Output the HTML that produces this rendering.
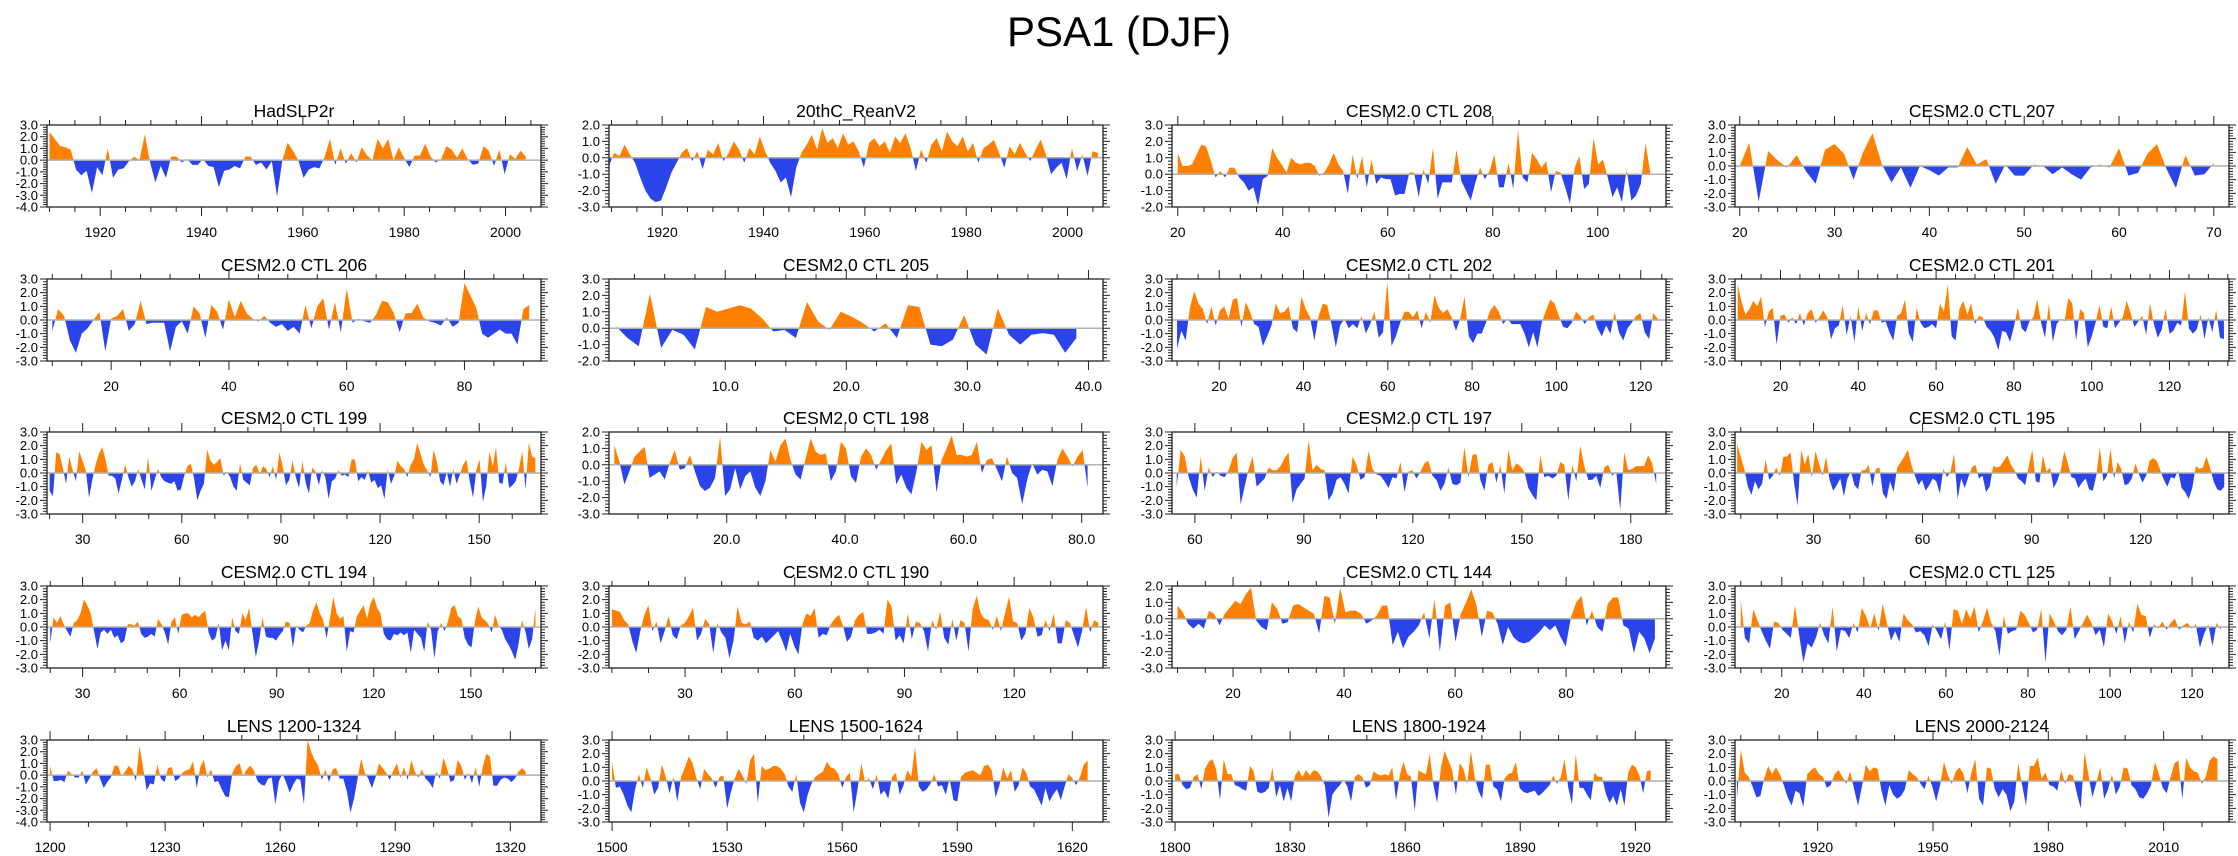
<!DOCTYPE html>
<html><head><meta charset="utf-8">
<style>
html,body{margin:0;padding:0;background:#fff;}
svg{display:block;font-family:"Liberation Sans",Arial,sans-serif;}
</style></head>
<body>
<svg id="fig" width="2238" height="856" viewBox="0 0 2238 856" xmlns="http://www.w3.org/2000/svg">
<text x="1119" y="46" text-anchor="middle" font-size="42">PSA1 (DJF)</text>
</svg>
<script>
// ---- data ----
const titles = ["HadSLP2r","20thC_ReanV2","CESM2.0 CTL 208","CESM2.0 CTL 207","CESM2.0 CTL 206","CESM2.0 CTL 205","CESM2.0 CTL 202","CESM2.0 CTL 201","CESM2.0 CTL 199","CESM2.0 CTL 198","CESM2.0 CTL 197","CESM2.0 CTL 195","CESM2.0 CTL 194","CESM2.0 CTL 190","CESM2.0 CTL 144","CESM2.0 CTL 125","LENS 1200-1324","LENS 1500-1624","LENS 1800-1924","LENS 2000-2124"];
const yRanges = [[-4,3],[-3,2],[-2,3],[-3,3],[-3,3],[-2,3],[-3,3],[-3,3],[-3,3],[-3,2],[-3,3],[-3,3],[-3,3],[-3,3],[-3,2],[-3,3],[-4,3],[-3,3],[-3,3],[-3,3]];
const xAxisRanges = [[1909.5,2007],[1909.5,2007],[18.9,113],[19.5,71.6],[9.1,93],[0.4,41.2],[8.8,126],[8.3,135.3],[19.2,168.7],[0.1,83.6],[53.7,189.7],[8.4,144.3],[19,171.7],[9.2,144.3],[9,98],[8.6,129],[1199.2,1328],[1499.2,1628],[1799.2,1928],[1898.5,2027]];
const dataSpans = [[1910,2004],[1909.5,2006],[20,110],[20,70],[10,91],[1,39],[10,124],[9,134],[20,167],[1,81],[55,187],[9,143],[20,170],[10,143],[10,96],[10,127],[1200,1324],[1500,1624],[1800,1924],[1899,2024]];
const xTickValues = [[1920,1940,1960,1980,2000],[1920,1940,1960,1980,2000],[20,40,60,80,100],[20,30,40,50,60,70],[20,40,60,80],[10,20,30,40],[20,40,60,80,100,120],[20,40,60,80,100,120],[30,60,90,120,150],[20,40,60,80],[60,90,120,150,180],[30,60,90,120],[30,60,90,120,150],[30,60,90,120],[20,40,60,80],[20,40,60,80,100,120],[1200,1230,1260,1290,1320],[1500,1530,1560,1590,1620],[1800,1830,1860,1890,1920],[1920,1950,1980,2010]];
const xTickLabels = [["1920","1940","1960","1980","2000"],["1920","1940","1960","1980","2000"],["20","40","60","80","100"],["20","30","40","50","60","70"],["20","40","60","80"],["10.0","20.0","30.0","40.0"],["20","40","60","80","100","120"],["20","40","60","80","100","120"],["30","60","90","120","150"],["20.0","40.0","60.0","80.0"],["60","90","120","150","180"],["30","60","90","120"],["30","60","90","120","150"],["30","60","90","120"],["20","40","60","80"],["20","40","60","80","100","120"],["1200","1230","1260","1290","1320"],["1500","1530","1560","1590","1620"],["1800","1830","1860","1890","1920"],["1920","1950","1980","2010"]];
const xMinorSteps = [5,5,5,2,5,2.5,5,5,10,5,10,10,10,10,5,5,10,10,10,10];

const s0 = [2.4,1.8,1.2,1.1,0.9,-0.8,-1.3,-0.9,-2.8,-0.6,-1.3,1.0,-1.5,-0.8,-0.7,-0.1,0.3,0.0,2.2,-0.2,-1.9,-0.5,-1.5,0.3,0.3,-0.2,0.1,-0.4,-0.4,0.1,-0.5,-0.6,-2.3,-0.9,-0.8,-0.5,-0.7,0.3,0.3,-0.4,-0.2,-0.8,-0.1,-3.1,0.0,1.5,0.8,0.0,-1.5,-0.8,-0.6,-0.7,0.3,1.8,-0.4,1.0,-0.3,0.6,-0.2,1.1,0.4,0.0,1.8,1.0,1.8,0.0,1.1,0.2,-0.6,0.4,0.4,1.4,0.3,-0.2,0.1,1.2,0.9,0.2,1.0,0.1,-0.4,-0.3,1.2,0.8,-0.5,0.9,-1.2,0.5,0.1,0.8,0.3];
const s1 = [-0.5,0.3,0.1,0.8,0.2,-0.3,-1.2,-2.0,-2.5,-2.7,-2.6,-1.8,-0.9,-0.3,0.3,0.6,-0.2,0.4,-0.7,0.5,0.2,0.9,-0.2,0.3,1.0,0.5,-0.3,0.6,0.2,1.3,0.4,-0.3,-0.8,-1.5,-1.2,-2.4,-0.6,0.3,0.8,1.4,0.5,1.8,0.9,1.2,0.6,1.5,0.8,1.0,0.4,-0.6,0.9,1.2,0.7,1.0,0.3,1.3,0.9,1.5,0.6,-0.8,0.5,-0.3,0.8,1.2,0.4,1.6,1.0,0.7,1.3,0.4,0.9,-0.3,0.6,0.8,1.1,0.3,-0.6,0.7,0.2,0.9,0.3,-0.2,0.5,1.1,0.2,-1.0,-0.6,-0.3,-1.3,0.6,-0.8,0.2,-1.1,0.4,0.3];
const s2 = [1.3,0.5,0.5,0.6,1.2,1.8,1.7,0.8,-0.2,0.2,-0.2,0.4,0.4,-0.2,-0.5,-1.0,-0.8,-1.9,-0.3,-0.1,1.6,1.0,0.6,0.1,1.0,0.7,0.6,0.7,0.7,0.5,-0.1,0.1,0.6,1.3,0.6,0.2,-1.2,1.2,-0.3,1.1,-0.8,0.9,-0.6,-0.2,-0.3,-0.3,-1.3,-1.2,-1.2,0.1,0.1,-1.4,0.3,-0.6,1.6,-1.5,-0.5,-0.5,-0.5,1.5,-0.4,-1.0,-1.6,-0.5,0.4,-0.3,0.2,1.2,-0.8,-0.8,0.7,-0.9,2.7,-0.2,-0.5,1.3,0.9,0.4,0.8,-1.1,0.2,0.1,-0.8,-1.8,0.4,1.1,-0.9,-0.6,2.2,0.6,0.9,-0.2,-1.4,-0.8,-1.7,0.3,-1.6,-1.3,-0.6,1.9,0.1];
const s3 = [0,1.7,-2.6,1.1,0.4,-0.1,0.8,-0.4,-1.3,1.2,1.6,0.9,-1.0,1.0,2.4,0.1,-1.2,-0.1,-1.6,0.0,-0.3,-0.7,-0.1,-0.1,1.4,0.1,0.5,-1.3,0.1,-0.7,-0.7,0.1,0,-0.6,-0.1,-0.6,-1.0,-0.1,0.1,-0.1,1.3,-0.7,-0.5,0.9,1.6,-0.2,-1.6,0.8,-0.7,-0.6,0.2];
const s4 = [-0.8,0.8,0.3,-1.5,-2.4,-1.0,-0.6,0.0,0.6,-2.3,0.1,0.3,0.8,-0.8,-0.3,1.4,-0.3,-0.2,-0.2,-0.2,-2.3,-0.5,-0.1,-1.0,1.0,0.5,-1.3,1.1,0.6,-0.7,1.5,0.2,1.4,0.5,0.1,-0.1,0.3,-0.2,-0.5,-0.3,-0.8,-0.5,-1.0,1.1,-0.6,1.0,1.6,-0.7,1.3,-0.9,2.3,-0.2,0.1,-0.1,-0.2,0.4,1.4,1.3,0.5,-0.9,0.5,0.5,1.2,0.2,-0.1,-0.2,-0.4,0.2,-0.5,-0.2,2.7,1.8,0.9,-1.0,-1.3,-1.0,-0.7,-1.0,-1.0,-1.8,0.8,1.1];
const s5 = [0.1,-0.6,-1.1,2.1,-1.2,-0.1,-0.4,-1.3,1.3,1.0,1.2,1.4,1.2,0.6,-0.2,-0.1,-0.6,1.6,0.4,-0.1,1.0,0.7,0.3,-0.2,0.3,-0.6,1.4,1.3,-1.0,-1.1,-0.7,0.8,-1.0,-1.6,1.2,-0.4,-1.0,-0.4,-0.3,-0.4,-1.5,-0.6];
const s6 = [-2.1,-0.8,-1.5,0.9,2.1,1.2,0.8,-0.3,1.0,-0.4,0.7,1.0,0.1,1.5,1.6,-0.5,1.3,0.6,-0.3,-0.5,-1.9,-1.2,-0.4,1.2,0.5,0.6,1.0,-0.6,-0.9,1.7,0.8,0.2,-1.5,0.3,1.2,1.1,-0.3,-2.0,-0.4,0.1,-0.6,-0.3,-0.6,0.3,-1.0,-0.3,0.6,-1.3,-0.9,2.8,-1.9,-1.2,-0.2,0.6,0.6,0.2,0.7,-0.6,0.6,-0.2,1.8,0.9,0.5,0.8,0.2,-0.8,0.1,1.7,-1.2,-1.7,-1.0,-1.0,-0.2,0.7,1.1,0.6,-0.3,0.1,-0.3,-0.3,-0.3,-1.0,-2.0,-0.9,-2.0,-0.2,0.7,1.5,1.2,0.3,-0.5,-0.6,-0.2,0.6,0.3,-0.3,0.2,0.4,-0.6,-1.2,-0.4,-1.0,0.6,-0.9,-1.5,-0.6,-0.2,0.3,0.5,-0.9,-1.4,0.5,0.1];
const s7 = [2.6,1.3,0.4,0.8,1.4,1.0,1.7,-0.5,0.6,0.9,-1.8,0.3,0.4,-0.2,0.2,-0.3,0.5,-0.4,0.5,0.8,-0.2,0.2,0.7,0.2,-1.4,-0.6,-0.4,1.1,-1.1,0.3,-1.6,1.0,-0.8,0.5,-0.3,0.7,0.7,-0.2,-0.1,-0.9,-1.5,0.3,0.5,1.5,-1.0,-1.6,0.9,-0.2,-0.6,-0.5,-0.3,-0.6,1.2,0.6,2.6,-1.2,-1.5,0.8,1.4,0.4,1.2,-0.3,0.3,0.2,-0.5,-0.8,-1.3,-2.2,-0.8,-0.9,-1.6,-0.5,0.9,-0.6,-0.9,-0.1,0.2,1.5,-0.2,-1.3,1.2,-1.6,-0.3,0.1,-0.1,1.6,1.2,-1.5,0.8,0.5,-2.0,-1.2,-0.2,1.1,-0.5,-0.6,1.0,-0.6,-0.2,0.2,1.4,0.5,-0.5,-0.1,0.3,-1.1,1.2,-0.3,-1.3,-0.7,0.8,-1.0,-0.8,-0.2,-0.4,2.1,-0.6,-1.0,-0.7,0.4,-1.4,0.2,-0.9,0.7,-1.3,-1.4];
const s8 = [-1.3,-1.7,1.5,1.4,0.4,-0.8,1.2,0.2,-0.6,1.6,0.9,0.2,-1.8,-0.5,0.6,1.4,1.9,1.0,-0.2,-0.2,-0.4,-1.5,-0.5,0.6,-0.3,-1.0,-0.6,0.3,-0.5,-1.2,1.2,-1.3,-0.5,0.3,-0.3,-0.6,-0.7,-0.8,-0.6,-1.3,-1.2,-0.2,0.5,0.7,-0.4,-2.0,-1.3,-0.8,1.7,0.9,0.6,0.8,1.1,-0.2,0.1,-0.3,-1.0,-1.3,0.7,-0.5,-0.7,-0.9,0.4,0.6,-0.1,0.5,0.3,-0.3,0.5,-0.5,1.5,0.5,-0.9,-0.5,0.9,-0.3,-1.1,0.9,-0.7,-1.5,0.4,0.1,-0.9,0.2,-0.3,-1.9,-0.6,-0.4,0.2,-0.2,-0.1,-0.3,1.0,1.0,-0.6,-0.3,-0.5,0.2,-0.7,-0.5,-1.1,-0.9,-1.9,0.3,-0.8,-0.2,0.9,0.5,0.3,-0.3,0.6,1.0,2.2,1.4,0.6,0.2,-0.3,1.7,0.8,-0.6,-0.9,0.1,-1.0,0.3,-0.8,-0.1,0.6,1.0,-0.6,-1.8,0.2,1.0,-2.1,-1.0,1.6,0.5,1.9,-0.7,-0.8,0.8,-1.1,-0.9,-0.6,0.3,1.6,-1.2,2.2,1.2,1.1];
const s9 = [1.2,0.2,-1.2,-0.4,0.5,0.8,1.1,-0.8,-0.6,-0.4,-0.9,0.1,0.9,-0.3,-0.2,0.6,-0.4,-1.3,-1.6,-1.4,-0.8,1.7,-1.9,-1.5,-0.2,-1.5,-0.7,-0.4,-1.4,-1.9,-1.0,0.9,0.2,1.2,1.6,0.3,-0.6,-0.9,0.4,1.6,0.8,0.6,0.7,-1.0,-0.4,1.4,1.0,-0.7,-1.1,0.5,1.0,0.6,-0.3,0.3,0.9,1.3,-1.2,-0.6,-1.4,-1.8,-0.4,1.4,0.9,1.2,-1.7,0.3,1.0,1.8,0.6,0.6,0.5,0.6,1.4,-0.5,0.3,0.4,-0.3,-1.0,0.5,-0.5,-0.8,-2.4,-0.9,0.1,-0.6,-0.3,-0.4,-1.3,0.3,1.0,0.5,-0.1,0.5,0.9,-1.4];
const s10 = [-1.0,1.7,1.2,-0.3,-1.2,-1.8,1.2,-1.3,0.4,-0.3,0.1,-0.2,-0.3,0.2,1.1,1.5,-2.3,-1.0,0.3,1.2,-1.0,-0.7,-0.4,0.4,0.2,0.2,0.5,1.1,1.5,-2.2,-1.2,-0.8,-0.4,2.4,0.2,0.6,0.3,0.2,-2.0,-1.5,-0.5,-0.3,-0.8,-1.5,1.2,0.6,-0.5,-0.3,1.6,0.3,-0.1,-0.2,-0.6,-1.1,-0.3,-0.4,0.8,-1.4,0.1,0.2,-0.4,0.1,0.7,0.9,-0.2,-0.5,-1.3,-0.8,0.4,-0.8,-0.9,-0.7,1.9,-0.3,1.3,1.4,-0.5,-1.3,0.6,0.8,-0.7,0.6,-1.5,1.7,0.2,0.7,0.5,0.1,-1.1,-1.6,-2.0,1.3,-0.3,-0.2,-0.4,-0.2,0.8,0.6,-2.0,0.6,-0.6,2.0,0.5,-0.5,-0.5,-0.2,-1.1,0.4,0.6,-0.2,0.1,-2.7,1.5,0.2,0.3,0.5,0.5,0.5,1.3,0.7,-0.8];
const s11 = [2.1,1.2,0.3,-1.0,-1.6,-0.6,-1.2,-0.8,1.0,-0.5,-0.2,0.4,-0.2,1.2,1.2,1.5,-0.7,-2.4,1.7,0.6,1.4,-0.3,1.6,0.7,-0.2,1.2,-0.5,-1.3,-0.9,-0.4,-1.7,-0.4,0.1,-0.9,-1.2,0.2,0.2,0.6,-1.0,0.3,0.4,-1.5,-1.9,-0.6,-1.4,0.4,0.8,1.2,1.7,0.6,-0.2,-0.9,-0.5,-1.3,-0.9,-0.4,-0.6,-1.5,0.3,-0.3,0.1,1.4,-1.9,-0.4,-1.1,-0.3,0.4,0.6,-0.4,-0.2,-1.4,-1.0,0.5,0.4,0.5,0.9,1.3,0.6,0.2,-0.4,-0.6,-0.9,0.5,1.7,-0.6,-0.7,1.3,0.1,0.4,-1.1,-0.6,0.2,1.6,0.7,-0.3,-0.4,-1.1,-0.7,-0.4,-1.2,-1.3,-0.2,1.9,-0.6,-0.2,1.8,-0.4,0.8,0.3,-0.9,-0.8,-0.4,0.7,-0.1,-0.7,-0.2,0.9,1.1,0.9,0.2,-0.5,-1.0,-0.3,-0.4,0.2,-1.1,-1.4,-1.9,-1.1,0.5,0.3,0.4,1.2,0.4,-0.6,-1.2,-1.3,-1.0];
const s12 = [-1.2,0.7,0.3,0.8,0.2,-0.3,-0.7,0.3,0.5,1.0,2.0,1.6,1.0,-0.3,-1.6,-0.4,-0.2,-0.5,-0.2,-0.8,-0.6,-1.2,-1.0,0.2,0.2,0.1,0.4,-0.5,-0.8,-0.7,-0.5,-0.7,0.6,0.2,-0.4,-1.3,0.4,0.7,-0.5,0.9,1.0,1.0,0.7,0.9,0.7,1.0,1.2,-0.4,-1.0,-0.8,0.3,-1.7,-1.0,-1.7,0.7,-0.3,-0.5,1.0,0.5,1.4,-0.4,-2.2,-1.0,0.7,-0.7,-0.8,-0.8,-1.0,-0.6,-0.3,0.4,0.3,-1.5,0.1,-0.2,-0.4,0.1,0.3,1.2,1.8,1.0,0.5,-0.8,0.6,2.2,1.0,0.6,0.8,-1.8,-0.3,-0.4,0.8,1.2,1.6,0.6,1.7,2.2,1.4,1.0,-0.5,-0.9,-1.0,-0.5,-0.6,-0.4,-0.6,-0.4,-1.9,-0.2,-0.5,-0.8,-1.8,0.4,-0.2,-2.3,-0.3,0.3,-0.3,0.4,1.4,1.6,0.8,0.6,-0.8,-1.3,-1.5,0.4,1.5,0.7,0.5,0.2,-0.4,0.9,0.1,-0.2,-0.9,-1.3,-1.8,-2.4,-1.2,0.5,-0.3,-1.6,-0.9,1.4];
const s13 = [1.3,1.2,1.1,0.5,0.2,-1.0,-1.9,-0.3,0.9,1.6,-0.3,0.4,-1.2,-0.3,0.8,-0.6,-0.9,0.1,0.3,0.8,1.4,-1.0,-0.5,0.6,0.2,-1.9,0.3,-0.4,-0.8,-2.3,-1.0,1.5,0.3,0.2,0.4,-0.8,-1.0,-0.7,-1.2,-0.9,-0.6,-0.3,-1.0,-1.8,-0.5,-1.4,-2.0,0.2,1.0,0.8,1.4,-0.8,-0.5,-0.6,0.2,0.6,0.9,0.1,-1.1,-0.7,0.5,0.9,1.1,-0.5,-0.5,-0.4,-0.2,-0.5,2.0,1.5,-1.0,-0.6,-1.2,1.0,-0.9,0.4,0.3,-0.3,-1.8,0.5,-0.2,1.1,-0.8,-1.3,0.6,-1.0,0.5,0.3,-1.8,1.3,2.3,1.0,0.6,0.5,-0.2,0.8,-0.3,1.0,2.2,0.4,0.3,-1.0,-0.5,1.4,0.7,-0.7,-0.6,0.5,-0.3,1.0,-1.2,-1.2,0.5,0.3,-0.6,-1.5,-0.3,1.5,-0.4,0.5,0.3];
const s14 = [0.8,0.4,-0.3,-0.6,-0.3,-0.6,0.5,0.3,-0.4,0.3,0.7,1.1,0.9,1.5,1.9,-0.1,-0.5,-0.7,1.0,0.6,-0.3,-0.2,0.8,0.9,0.7,0.5,0.3,-0.9,1.4,1.3,-0.3,1.9,0.4,0.5,0.5,0.3,-0.3,-0.1,0.2,0.8,0.8,-1.6,-0.8,-1.8,-1.1,-0.8,-0.4,0.4,-1.2,1.2,-2.0,0.8,1.0,-1.4,0.3,1.0,1.8,0.8,-1.1,0.5,0.4,-0.3,-1.6,-0.5,-1.1,-1.4,-1.5,-1.4,-1.1,-0.8,-0.4,-0.7,-0.4,-1.1,-1.7,0.1,1.0,1.4,-0.4,0.5,-0.5,-0.8,0.9,1.3,1.3,-0.4,-0.6,-2.1,-0.8,-1.2,-2.1,-1.2];
const s15 = [2.0,-0.8,-1.2,1.3,0.5,-0.3,-1.0,-1.6,0.4,0.3,-0.2,-0.5,-0.8,1.6,-0.6,-2.6,-1.2,-1.5,-0.8,0.3,-0.6,-1.2,1.5,-1.8,-0.2,-0.3,-0.8,0.3,-0.4,1.4,0.8,-0.1,1.0,-0.3,1.7,0.3,-1.0,-0.3,-1.1,1.0,0.5,0.2,-0.4,-0.3,-0.6,-1.4,0.2,-0.3,-0.9,0.4,-1.7,1.3,1.2,0.2,1.3,0.6,1.5,-0.4,0.4,1.4,0.3,-0.3,-2.1,0.8,-0.5,-0.3,-0.2,1.2,0.9,0.3,-0.4,-0.2,1.3,-2.6,1.0,0.4,-0.3,-0.6,-0.2,1.5,-0.9,-0.3,0.3,0.9,0.3,-0.6,-0.2,-1.5,1.0,0.4,-0.5,0.8,-1.2,0.4,-0.4,1.7,0.9,0.8,-0.8,0.2,-0.1,0.4,-0.2,0.3,0.6,-0.2,0.1,0.3,-0.1,0.2,-1.5,-0.5,0.2,-1.4,0.3,-0.2];
const s16 = [0.8,-0.5,-0.5,-0.4,-0.6,0.4,0.1,-0.2,-0.2,0.4,-0.8,-0.3,0.3,0.6,-0.3,-1.1,-0.6,-0.2,0.8,0.8,-0.1,0.3,0.8,0.5,-0.5,2.5,0.7,-1.3,-0.7,-0.8,0.9,-0.3,-0.6,0.6,0.7,-0.5,-0.3,0.2,0.4,0.5,1.2,-1.1,0.7,1.3,-0.2,0.5,-0.6,-0.5,-1.2,-1.8,-1.9,0.2,0.8,1.0,-0.1,0.5,0.8,0.4,-0.5,-0.8,-0.9,-0.3,-0.2,-2.5,-0.5,0.1,-0.6,-1.5,-0.8,-0.3,-0.4,-2.5,3.0,2.0,1.3,0.8,-0.4,0.5,-0.6,0.5,0.6,-0.3,-0.3,-1.4,-3.2,-2.0,-0.3,1.4,0.2,-0.3,-1.1,-0.2,1.0,0.6,0.2,-0.4,0.4,1.0,-0.2,0.7,-0.4,1.3,0.3,-0.2,0.5,-0.3,-0.6,-1.1,0.3,-0.3,1.5,0.6,-0.6,-0.4,1.3,0.8,-0.4,0.2,-0.7,0.7,-1.0,0.7,1.8,1.6,-0.9,-0.9,-0.4,-0.2,-0.3,-0.6,-0.3,0.3,0.6,0.3];
const s17 = [1.4,-0.5,-0.4,-1.0,-1.8,-2.3,-0.6,0.5,-0.5,1.0,0.2,-1.0,-0.5,1.2,0.3,-0.9,0.3,-1.5,0.3,1.0,1.8,1.3,0.2,-0.6,0.9,0.5,0.2,-0.5,0.3,0.4,-2.0,-0.8,0.2,0.9,0.4,-0.2,1.5,2.0,-1.6,1.1,0.8,0.9,1.1,1.1,0.9,0.5,-0.4,-0.8,0.5,-1.6,-2.3,-1.0,-0.2,0.3,0.5,0.7,1.4,1.0,0.9,0.5,-0.5,0.3,0.6,-2.3,-0.6,1.3,-0.1,0.2,-0.6,0.5,-1.0,-0.7,-1.3,0.3,0.6,-1.0,-0.3,0.8,0.3,2.5,-0.4,-0.8,-0.6,-0.2,0.5,-0.4,-0.3,-1.0,0.2,-1.4,-1.5,0.3,0.6,0.7,0.8,0.6,0.4,1.1,1.2,0.8,-1.2,-0.3,1.0,0.2,0.8,-0.8,-0.3,1.0,0.6,-0.4,-0.6,-1.2,-1.8,-0.5,-1.5,-1.0,-0.6,-1.4,-0.4,0.5,0.2,-0.3,0.3,1.2,1.5];
const s18 = [0.5,0.5,-0.3,-0.6,-0.5,0.3,0.5,-0.6,0.9,1.4,1.6,0.8,-1.4,1.6,0.5,0.5,-0.3,-0.4,-0.6,-0.7,1.1,0.7,-0.8,-0.9,-0.8,-0.5,1.0,-1.2,-0.3,-1.5,-0.5,-1.5,0.4,0.8,0.3,0.8,0.4,0.8,0.7,0.3,-0.3,-2.7,-1.0,-0.6,-0.3,0.1,-0.4,-1.5,0.3,0.5,0.3,-0.5,-0.3,0.7,0.5,0.4,0.5,0.4,1.0,-1.4,0.4,1.4,0.5,0.3,-2.2,0.8,0.6,0.5,2.0,-0.3,-1.6,1.0,2.2,1.5,0.8,-1.0,1.3,0.9,-0.2,2.2,0.3,-0.7,-1.3,1.2,1.2,-0.4,-0.6,-1.5,0.2,0.5,0.6,1.4,-0.5,-0.8,-0.9,-0.8,-0.7,-1.1,-0.9,-0.6,-0.3,0.4,-0.2,0.3,1.6,-0.5,-1.7,2.0,-0.5,-0.5,-1.0,-1.4,0.6,0.3,0.3,-0.9,-1.6,-1.1,-1.8,-0.6,-1.8,0.6,1.2,1.0,0.4,-0.9,0.7,0.8];
const s19 = [-1.3,2.3,0.6,0.3,-0.4,-1.2,-1.1,0.2,1.1,0.5,1.0,0.5,-0.3,-1.2,-1.8,-0.7,-0.9,-1.9,0.5,0.8,1.0,0.5,0.3,-0.5,-0.3,0.5,0.8,0.3,-0.2,0.7,-0.6,-1.8,-0.4,1.2,0.7,1.0,0.9,-0.7,-1.8,-0.3,-1.0,-1.3,-1.1,-0.6,0.8,0.5,0.3,-0.2,-0.6,0.4,-0.4,-1.5,-0.3,1.4,0.4,-0.2,0.7,1.0,0.5,-0.9,0.6,1.6,-1.3,-1.8,1.0,0.9,-0.6,-1.2,-0.6,-1.0,-2.2,-1.5,1.3,-0.3,-1.8,1.1,1.1,1.7,0.2,0.6,-0.3,-0.4,-0.7,0.8,-0.2,0.5,0.4,-0.9,-2.0,2.1,0.4,-1.2,-0.1,1.0,-1.3,-0.6,0.5,-1.0,-0.4,1.0,0.9,-0.3,-0.6,-1.2,-1.3,-0.9,-0.3,1.4,0.5,-0.5,-0.9,0.3,1.3,1.5,-1.3,1.7,1.0,0.7,0.6,-0.2,0.3,1.5,1.8,1.6];
const seriesValues = [s0,s1,s2,s3,s4,s5,s6,s7,s8,s9,s10,s11,s12,s13,s14,s15,s16,s17,s18,s19];

// ---- drawing ----
const NS = "http://www.w3.org/2000/svg";
const svg = document.getElementById("fig");
const BOX_W = 494, BOX_H = 82;
const colLeft = [47, 609, 1172, 1735];
const rowTop = [125, 279, 432, 586, 740];
const POS = "#ff8000", NEG = "#2b44ea";

function mk(tag, attrs, parent) {
  const el = document.createElementNS(NS, tag);
  for (const k in attrs) el.setAttribute(k, attrs[k]);
  (parent || svg).appendChild(el);
  return el;
}
function fmt(v){ return v.toFixed(1); }

const defs = mk("defs", {});

titles.forEach((title, p) => {
  const c = p % 4, r = Math.floor(p / 4);
  const L = colLeft[c], T = rowTop[r], R = L + BOX_W, B = T + BOX_H;
  const [ymin, ymax] = yRanges[p];
  const [xmin, xmax] = xAxisRanges[p];
  const xs = v => L + (v - xmin) / (xmax - xmin) * BOX_W;
  const ys = v => B - (v - ymin) / (ymax - ymin) * BOX_H;

  const g = mk("g", {});
  
  

  const t = mk("text", {x: (L + R) / 2, y: T - 8, "text-anchor": "middle", "font-size": 17.5}, g);
  t.textContent = title;
  
  

  const vals = seriesValues[p];
  const [x0, x1] = dataSpans[p];
  const n = vals.length;
  const z = ys(0);
  let d = "M" + xs(x0).toFixed(2) + "," + z.toFixed(2);
  vals.forEach((v, i) => {
    const xv = x0 + i * (x1 - x0) / (n - 1);
    d += " L" + xs(xv).toFixed(2) + "," + ys(v).toFixed(2);
  });
  d += " L" + xs(x1).toFixed(2) + "," + z.toFixed(2) + " Z";
  const cpA = mk("clipPath", {id: "ca" + p}, defs);
  mk("rect", {x: L, y: T, width: BOX_W, height: z - T}, cpA);
  const cpB = mk("clipPath", {id: "cb" + p}, defs);
  mk("rect", {x: L, y: z, width: BOX_W, height: B - z}, cpB);
  const pa = mk("path", {d: d, fill: POS, "clip-path": "url(#ca" + p + ")"}, g);
  
  
  const pb = mk("path", {d: d, fill: NEG, "clip-path": "url(#cb" + p + ")"}, g);
  
  

  const zl = mk("line", {x1: L, x2: R, y1: z, y2: z, stroke: "#b0b0b0", "stroke-width": 1.5}, g);
  
  

  const fr = mk("rect", {x: L, y: T, width: BOX_W, height: BOX_H, fill: "none", stroke: "#222", "stroke-width": 1.3}, g);
  
  

  let tk = "";
  for (let v = ymin; v <= ymax + 1e-9; v += 0.2) {
    const yy = ys(v).toFixed(2);
    const major = Math.abs(v - Math.round(v)) < 1e-6;
    const len = major ? 7 : 4;
    tk += `M${L},${yy}h${-len}M${R},${yy}h${len}`;
  }
  for (let v = ymin; v <= ymax + 1e-9; v += 1) {
    const lb = mk("text", {x: L - 9, y: ys(v) + 4.5, "text-anchor": "end", "font-size": 13}, g);
    lb.textContent = fmt(v);
    
    
  }
  const step = xMinorSteps[p];
  const first = Math.ceil(xmin / step) * step;
  for (let v = first; v <= xmax + 1e-9; v += step) {
    const xx = xs(v).toFixed(2);
    const major = xTickValues[p].some(m => Math.abs(m - v) < 1e-6);
    const len = major ? 9 : 5;
    tk += `M${xx},${B}v${len}M${xx},${T}v${-len}`;
  }
  const tp = mk("path", {d: tk, stroke: "#222", "stroke-width": 1, fill: "none"}, g);
  
  
  xTickValues[p].forEach((v, i) => {
    const lb = mk("text", {x: xs(v), y: B + 30, "text-anchor": "middle", "font-size": 14}, g);
    lb.textContent = xTickLabels[p][i];
    
    
  });
});
</script>
</body></html>
